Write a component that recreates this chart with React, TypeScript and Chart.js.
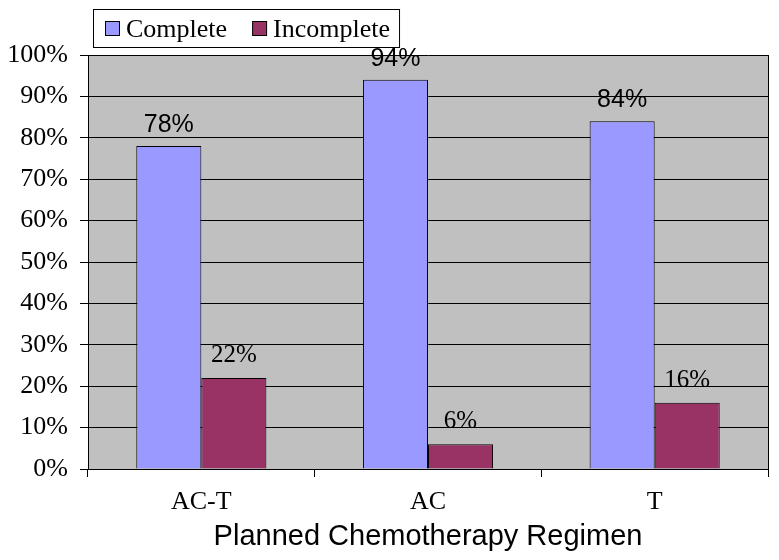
import React, { useEffect, useRef } from "react";
import { Chart, registerables } from "chart.js";

Chart.register(...registerables);

const categories = ["AC-T", "AC", "T"];
const seriesNames = ["Complete", "Incomplete"];
const completeValues = [78, 94, 84];
const incompleteValues = [22, 6, 16];
const yTicks = [0, 10, 20, 30, 40, 50, 60, 70, 80, 90, 100];
const xTitle = "Planned Chemotherapy Regimen";

const SERIF = "'Liberation Serif', 'Times New Roman', serif";
const SANS = "'Liberation Sans', Arial, sans-serif";

const bgPlugin = {
  id: "plotBg",
  beforeDraw(chart: any) {
    const { ctx, chartArea: a } = chart;
    ctx.save();
    ctx.fillStyle = "#c0c0c0";
    ctx.fillRect(a.left, a.top, a.right - a.left, a.bottom - a.top);
    ctx.restore();
  },
  afterDraw(chart: any) {
    const { ctx, chartArea: a } = chart;
    ctx.save();
    ctx.strokeStyle = "#000";
    ctx.lineWidth = 1;
    ctx.beginPath();
    ctx.moveTo(Math.round(a.right) + 0.5, a.top);
    ctx.lineTo(Math.round(a.right) + 0.5, a.bottom);
    ctx.stroke();
    ctx.restore();
  },
};

const labelPlugin = {
  id: "barLabels",
  afterDatasetsDraw(chart: any) {
    const { ctx } = chart;
    ctx.save();
    ctx.fillStyle = "#000";
    ctx.textAlign = "center";
    ctx.textBaseline = "alphabetic";
    chart.data.datasets.forEach((ds: any, i: number) => {
      const meta = chart.getDatasetMeta(i);
      ctx.font = i === 0 ? `25px ${SANS}` : `25px ${SERIF}`;
      const off = i === 0 ? 14 : 16;
      meta.data.forEach((bar: any, j: number) => {
        ctx.fillText(`${ds.data[j]}%`, bar.x, bar.y - off);
      });
    });
    ctx.restore();
  },
};

const legendPlugin = {
  id: "boxLegend",
  afterDraw(chart: any) {
    const { ctx } = chart;
    ctx.save();
    ctx.font = `26px ${SERIF}`;
    ctx.textBaseline = "alphabetic";
    const left = 93;
    const top = 9;
    const h = 38;
    const sq = 14;
    const items = chart.data.datasets.map((ds: any) => ({
      label: ds.label,
      color: ds.backgroundColor,
      w: ctx.measureText(ds.label).width,
    }));
    const positions: number[] = [];
    let x = left + 12;
    items.forEach((it: any, idx: number) => {
      positions.push(x);
      x += sq + 7 + it.w + (idx < items.length - 1 ? 25 : 0);
    });
    const width = x + 9 - left;
    ctx.fillStyle = "#fff";
    ctx.fillRect(left, top, width, h);
    ctx.strokeStyle = "#000";
    ctx.lineWidth = 1;
    ctx.strokeRect(left + 0.5, top + 0.5, width, h);
    items.forEach((it: any, idx: number) => {
      const px = positions[idx];
      ctx.fillStyle = it.color;
      ctx.fillRect(px + 0.5, 21.5, sq, sq);
      ctx.strokeStyle = "#000";
      ctx.strokeRect(px + 0.5, 21.5, sq, sq);
      ctx.fillStyle = "#000";
      ctx.fillText(it.label, px + sq + 7, 37);
    });
    ctx.restore();
  },
};

export default function App() {
  const ref = useRef<HTMLCanvasElement>(null);
  useEffect(() => {
    document.body.style.margin = "0";
    const chart = new Chart(ref.current as HTMLCanvasElement, {
      type: "bar",
      data: {
        labels: categories,
        datasets: [
          {
            label: seriesNames[0],
            data: completeValues,
            backgroundColor: "#9999ff",
            borderColor: "#000",
            borderWidth: 1,
          },
          {
            label: seriesNames[1],
            data: incompleteValues,
            backgroundColor: "#993366",
            borderColor: "#000",
            borderWidth: 1,
          },
        ],
      },
      options: {
        responsive: false,
        animation: false,
        layout: { padding: { top: 55, right: 11, bottom: 0, left: 0 } },
        datasets: { bar: { categoryPercentage: 0.574, barPercentage: 1 } },
        plugins: {
          legend: { display: false },
          tooltip: { enabled: false },
        },
        scales: {
          x: {
            grid: {
              drawOnChartArea: false,
              drawTicks: true,
              tickLength: 8,
              color: "#000",
              offset: true,
            },
            border: { display: true, color: "#000" },
            ticks: {
              color: "#000",
              font: { family: SERIF, size: 26 },
              padding: 10,
            },
            title: {
              display: true,
              text: xTitle,
              color: "#000",
              font: { family: SANS, size: 29 },
              padding: { top: 4, bottom: 6 },
            },
            afterFit(scale: any) {
              scale.height = 91;
            },
          },
          y: {
            min: 0,
            max: 100,
            afterBuildTicks(scale: any) {
              scale.ticks = yTicks.map((v) => ({ value: v }));
            },
            grid: {
              color: "#000",
              drawTicks: true,
              tickLength: 8,
            },
            border: { display: true, color: "#000" },
            ticks: {
              color: "#000",
              font: { family: SERIF, size: 26 },
              padding: 12,
              callback: (v: any) => `${v}%`,
            },
            afterFit(scale: any) {
              scale.width = 88;
            },
          },
        },
      },
      plugins: [bgPlugin, labelPlugin, legendPlugin],
    });
    return () => chart.destroy();
  }, []);
  return (
    <div style={{ width: 779, height: 560 }}>
      <canvas ref={ref} width={779} height={560} />
    </div>
  );
}
